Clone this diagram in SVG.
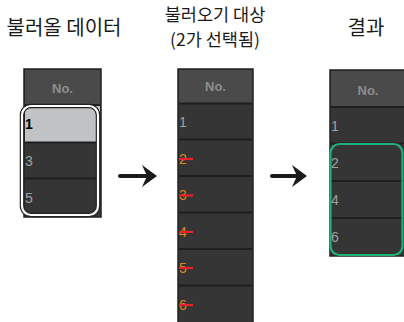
<svg xmlns="http://www.w3.org/2000/svg" width="404" height="322" viewBox="0 0 404 322">
<style>
.title{font-family:"Noto Sans CJK KR","Noto Sans",sans-serif;font-size:20px;fill:#1a1a1a;text-anchor:middle}
.t2{font-size:17.5px}
.tbl{fill:#353535;stroke:#222;stroke-width:1.5}
.hdr{fill:#4a4a4a}
.hdrtxt{font-family:"Liberation Sans",Arial,sans-serif;font-weight:bold;font-size:13px;fill:#8e8e8e;text-anchor:middle}
.sep{stroke:#1f1f1f;stroke-width:2}
.num{font-family:"Liberation Sans",Arial,sans-serif;font-size:14px;fill:#a0a0a0}
.num1{font-family:"Liberation Sans",Arial,sans-serif;font-size:14px;font-weight:bold;fill:#000}
.onum{font-family:"Liberation Sans",Arial,sans-serif;font-size:14px;fill:#d9862a}
.strike{stroke:#e8222a;stroke-width:2.2}
.arrow line{stroke:#1a1a1a;stroke-width:4;stroke-linecap:round}
.arrow path{fill:#1a1a1a}
</style>

<g id="title-source"><text class="title" x="64" y="35">불러올 데이터</text></g>
<g id="title-target"><text class="title t2" x="215" y="20.5">불러오기 대상</text><text class="title t2" x="215" y="45.5">(2가 선택됨)</text></g>
<g id="title-result"><text class="title" x="366" y="35">결과</text></g>

<g id="table-source">
<rect class="tbl" x="24" y="69" width="77" height="148"/>
<rect class="hdr" x="25" y="70" width="75" height="35"/>
<text class="hdrtxt" x="62.5" y="93">No.</text>
<rect x="25" y="106" width="75" height="36" fill="#c1c2c4"/>
<line class="sep" x1="25" y1="105" x2="100" y2="105"/>
<line class="sep" x1="25" y1="142.5" x2="100" y2="142.5"/>
<line class="sep" x1="25" y1="178.5" x2="100" y2="178.5"/>
<text class="num1" x="25" y="129">1</text>
<text class="num" x="25" y="165.5">3</text>
<text class="num" x="25" y="202.5">5</text>
<rect x="22" y="106" width="76" height="109" rx="9" fill="none" stroke="#222" stroke-width="4.5"/>
<rect x="22" y="106" width="76" height="109" rx="9" fill="none" stroke="#fff" stroke-width="2.2"/>
</g>

<g id="table-target">
<rect class="tbl" x="178" y="69" width="75" height="254"/>
<rect class="hdr" x="179" y="70" width="73" height="33"/>
<text class="hdrtxt" x="215.5" y="91">No.</text>
<line class="sep" x1="179" y1="103.5" x2="252" y2="103.5"/>
<line class="sep" x1="179" y1="139.5" x2="252" y2="139.5"/>
<line class="sep" x1="179" y1="176" x2="252" y2="176"/>
<line class="sep" x1="179" y1="212.5" x2="252" y2="212.5"/>
<line class="sep" x1="179" y1="249" x2="252" y2="249"/>
<line class="sep" x1="179" y1="285.5" x2="252" y2="285.5"/>
<text class="num" x="179" y="126.5">1</text>
<text class="onum" x="179" y="163.5">2</text>
<text class="onum" x="179" y="199.5">3</text>
<text class="onum" x="179" y="236.5">4</text>
<text class="onum" x="179" y="272.5">5</text>
<text class="onum" x="179" y="309.5">6</text>
<line class="strike" x1="179" y1="159" x2="193" y2="159"/>
<line class="strike" x1="179" y1="195.5" x2="193" y2="195.5"/>
<line class="strike" x1="179" y1="232" x2="193" y2="232"/>
<line class="strike" x1="179" y1="268" x2="193" y2="268"/>
<line class="strike" x1="179" y1="305" x2="193" y2="305"/>
</g>

<g id="table-result">
<rect class="tbl" x="330" y="70" width="76" height="186"/>
<rect class="hdr" x="331" y="71" width="74" height="36"/>
<text class="hdrtxt" x="368" y="95">No.</text>
<line class="sep" x1="331" y1="107" x2="405" y2="107"/>
<line class="sep" x1="331" y1="143.5" x2="405" y2="143.5"/>
<line class="sep" x1="331" y1="181" x2="405" y2="181"/>
<line class="sep" x1="331" y1="218" x2="405" y2="218"/>
<text class="num" x="331" y="130.5">1</text>
<text class="num" x="331" y="167.5">2</text>
<text class="num" x="331" y="204.5">4</text>
<text class="num" x="331" y="242">6</text>
<rect x="330.5" y="144" width="72" height="111" rx="9" fill="none" stroke="#1fb07a" stroke-width="2.2"/>
</g>

<g id="connectors" class="arrow">
<line x1="120" y1="176" x2="148" y2="176"/>
<path d="M157,176 L142,165 L147,176 L142,187 Z"/>
<line x1="272" y1="176" x2="298" y2="176"/>
<path d="M307,176 L292,165 L297,176 L292,187 Z"/>
</g>
</svg>
